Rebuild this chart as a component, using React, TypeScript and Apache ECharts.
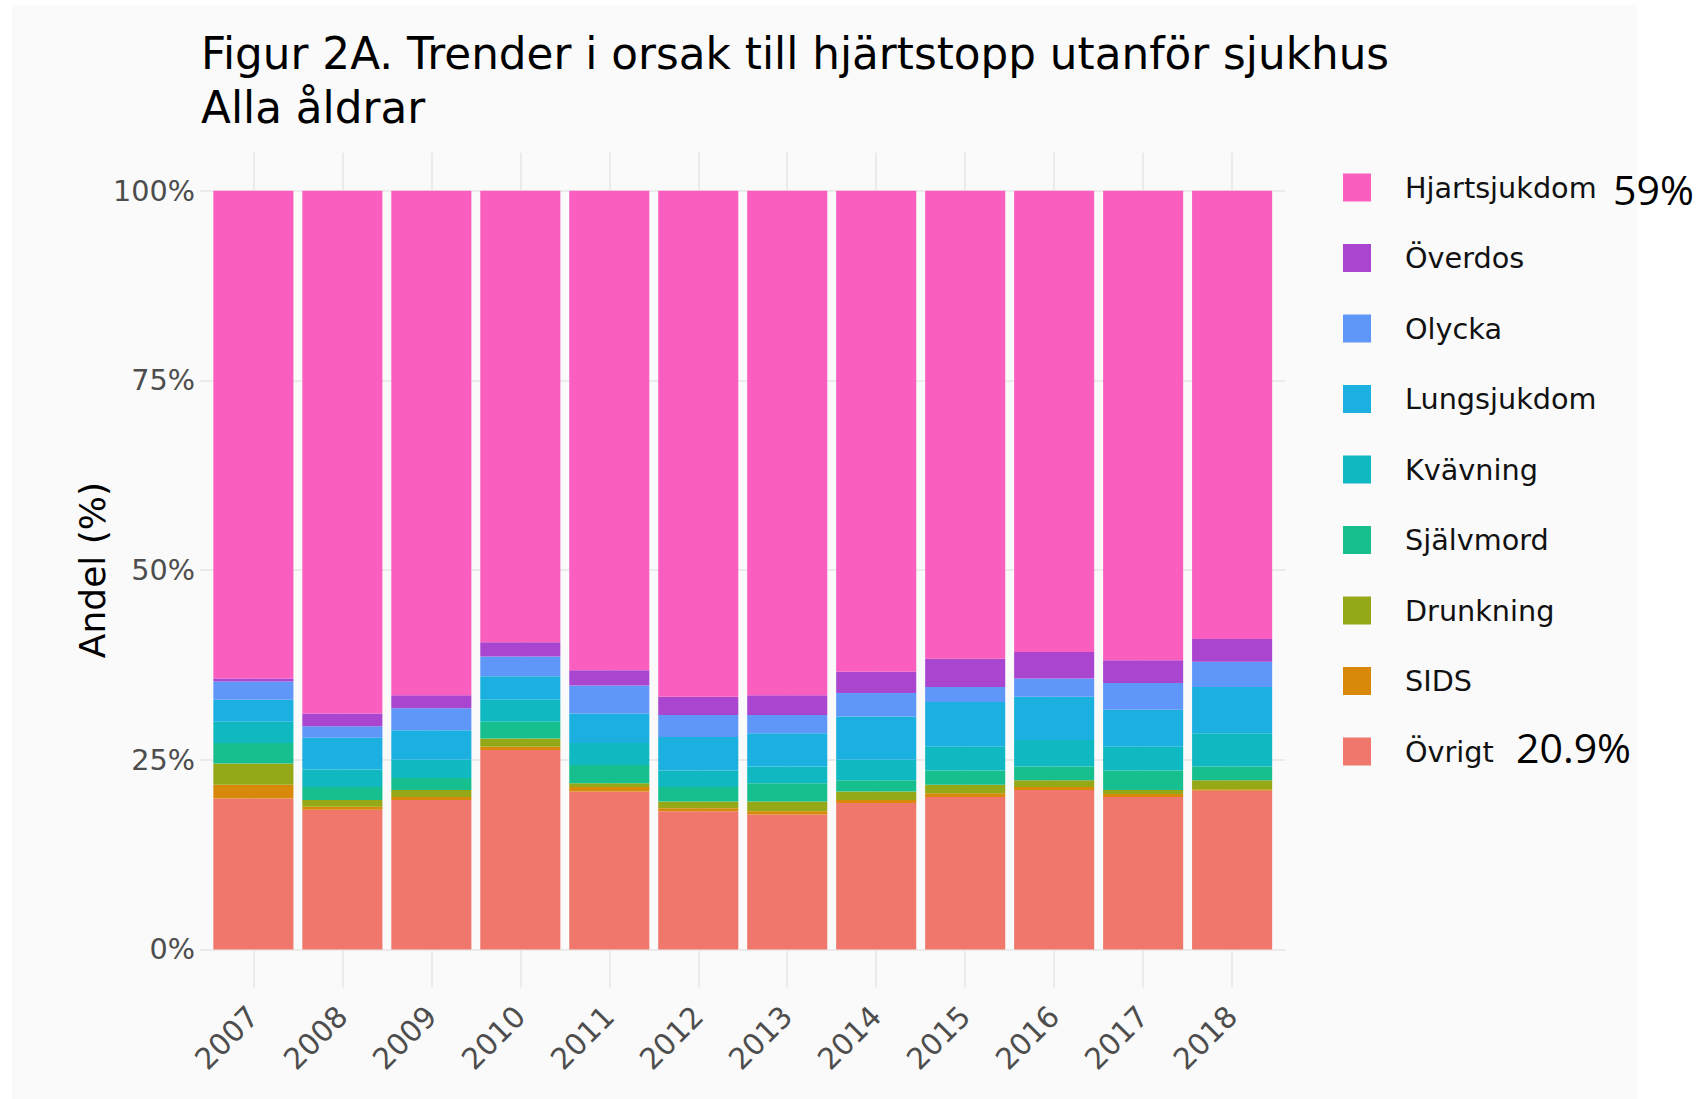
import React, { useEffect, useRef } from "react";
import * as echarts from "echarts";

const years = ["2007", "2008", "2009", "2010", "2011", "2012", "2013", "2014", "2015", "2016", "2017", "2018"];
const yTicks = [0, 25, 50, 75, 100];

// Share (%) per cause, stacked bottom → top
const ovrigt = [19.9, 18.4, 19.7, 26.3, 20.8, 18.2, 17.8, 19.3, 20.1, 21.0, 20.1, 20.9];
const sids = [1.8, 0.4, 0.4, 0.4, 0.6, 0.4, 0.4, 0.4, 0.5, 0.4, 0.4, 0.2];
const drunkning = [2.8, 0.9, 0.9, 1.1, 0.5, 0.9, 1.3, 1.1, 1.1, 0.9, 0.5, 1.2];
const sjalvmord = [2.7, 1.7, 1.6, 2.2, 2.4, 1.9, 2.4, 1.5, 1.9, 1.8, 2.6, 1.8];
const kvavning = [2.8, 2.3, 2.4, 2.9, 2.9, 2.2, 2.2, 2.7, 3.1, 3.5, 3.1, 4.4];
const lungsjukdom = [2.9, 4.2, 3.9, 3.1, 3.9, 4.4, 4.4, 5.7, 5.9, 5.7, 4.9, 6.1];
const olycka = [2.4, 1.5, 2.9, 2.6, 3.7, 2.9, 2.4, 3.1, 2.0, 2.4, 3.5, 3.3];
const overdos = [0.4, 1.7, 1.7, 1.9, 2.0, 2.4, 2.6, 2.8, 3.7, 3.5, 3.0, 3.0];
const hjartsjukdom = [64.3, 68.9, 66.5, 59.5, 63.2, 66.7, 66.5, 63.4, 61.7, 60.8, 61.9, 59.1];

const seriesDefs = [
  { name: "Övrigt", data: ovrigt, color: "#EF776B" },
  { name: "SIDS", data: sids, color: "#D8890A" },
  { name: "Drunkning", data: drunkning, color: "#95A818" },
  { name: "Självmord", data: sjalvmord, color: "#17BF8F" },
  { name: "Kvävning", data: kvavning, color: "#10B9C2" },
  { name: "Lungsjukdom", data: lungsjukdom, color: "#1BB0E0" },
  { name: "Olycka", data: olycka, color: "#5F97F8" },
  { name: "Överdos", data: overdos, color: "#AA45D0" },
  { name: "Hjartsjukdom", data: hjartsjukdom, color: "#FA5FC0" },
];

const annotHjart = "59%";
const annotOvrigt = "20.9%";

const FONT = "DejaVu Sans";

export default function App() {
  const ref = useRef<HTMLDivElement>(null);

  useEffect(() => {
    if (!ref.current) return;
    const chart = echarts.init(ref.current, undefined, { renderer: "svg" });
    const xTicks = years.map((_, i) => i);

    const option: any = {
      animation: false,
      backgroundColor: "#ffffff",
      title: {
        text: "Figur 2A. Trender i orsak till hjärtstopp utanför sjukhus\nAlla åldrar",
        left: 201,
        top: 26,
        padding: 0,
        textStyle: {
          fontFamily: FONT,
          fontSize: 43.7,
          fontWeight: "normal",
          color: "#000000",
          lineHeight: 54,
        },
      },
      graphic: [
        {
          type: "rect",
          z: -100,
          silent: true,
          shape: { x: 12, y: 5, width: 1625, height: 1094 },
          style: { fill: "#FAFAFA" },
        },
        {
          type: "text",
          left: 1613,
          top: 168,
          style: {
            text: annotHjart,
            fontFamily: "Open Sans",
            fontSize: 41,
            fill: "#000000",
          },
        },
        {
          type: "text",
          left: 1516,
          top: 726,
          style: {
            text: annotOvrigt,
            fontFamily: "Open Sans",
            fontSize: 41,
            fill: "#000000",
          },
        },
      ],
      grid: {
        left: 200,
        right: 417.5,
        top: 152.7,
        bottom: 111.6,
        containLabel: false,
        outerBoundsMode: "none",
      },
      legend: {
        orient: "vertical",
        left: 1343,
        top: 173,
        padding: 0,
        itemWidth: 28,
        itemHeight: 28,
        itemGap: 41.5,
        icon: "rect",
        selectedMode: false,
        data: seriesDefs.map((s) => s.name).reverse(),
        textStyle: {
          fontFamily: FONT,
          fontSize: 28.7,
          color: "#111111",
          lineHeight: 28,
          padding: [0, 0, 0, 29],
        },
      },
      xAxis: {
        type: "value",
        min: -0.6,
        max: 11.6,
        axisLine: { show: false },
        axisTick: { show: false, customValues: xTicks },
        axisLabel: {
          customValues: xTicks,
          formatter: (v: number) => years[Math.round(v)] ?? "",
          rotate: 45,
          margin: 24,
          fontFamily: FONT,
          fontSize: 29.5,
          color: "#4D4D4D",
        },
        splitLine: { show: true, lineStyle: { color: "#EBEBEB", width: 2 } },
      },
      yAxis: {
        type: "value",
        min: -5,
        max: 105,
        name: "Andel (%)",
        nameLocation: "middle",
        nameGap: 90,
        nameMoveOverlap: false,
        nameTextStyle: { fontFamily: FONT, fontSize: 36, color: "#000000" },
        axisLine: { show: false },
        axisTick: { show: false, customValues: yTicks },
        axisLabel: {
          customValues: yTicks,
          formatter: (v: number) => `${v}%`,
          margin: 5,
          fontFamily: FONT,
          fontSize: 28.7,
          color: "#4D4D4D",
        },
        splitLine: { show: true, lineStyle: { color: "#EBEBEB", width: 2 } },
      },
      series: seriesDefs.map((s) => ({
        name: s.name,
        type: "bar",
        stack: "total",
        barCategoryGap: "10%",
        itemStyle: { color: s.color },
        emphasis: { disabled: true },
        // value first so that the y dimension is the stacked one
        encode: { x: 1, y: 0 },
        data: s.data.map((v, i) => [v, i]),
      })),
    };

    chart.setOption(option);
    return () => chart.dispose();
  }, []);

  return (
    <div
      ref={ref}
      style={{ position: "absolute", left: 0, top: 0, width: 1703, height: 1099 }}
    />
  );
}
